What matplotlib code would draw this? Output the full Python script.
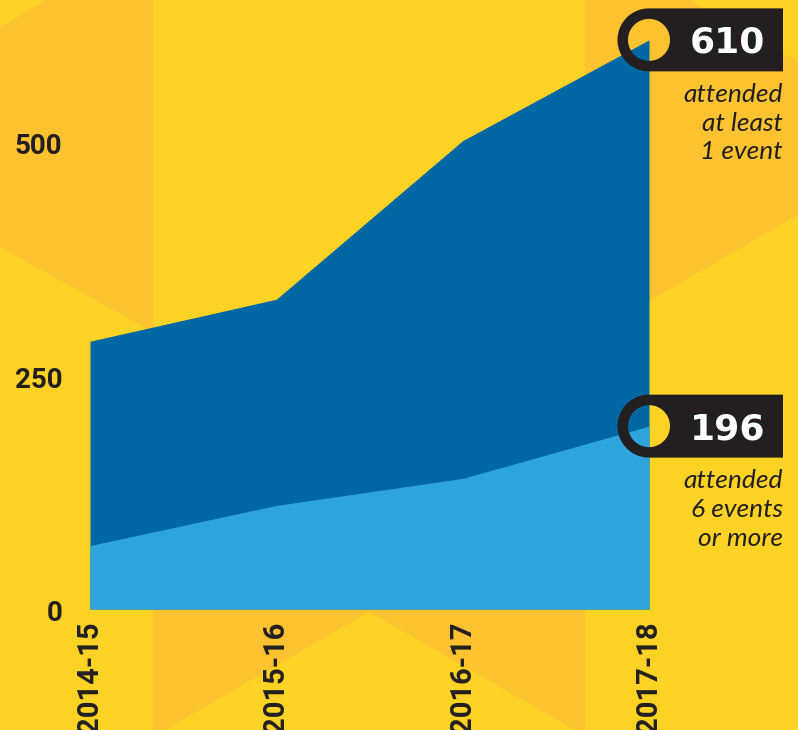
import numpy as np
import matplotlib
matplotlib.use('Agg')
import matplotlib.pyplot as plt
from matplotlib.path import Path
from matplotlib.patches import PathPatch, Polygon
from matplotlib.transforms import IdentityTransform, ScaledTranslation

# data
seasons = ['2014-15', '2015-16', '2016-17', '2017-18']
at_least_one = [287, 332, 502, 610]
six_or_more = [68, 111, 140, 196]
tag_captions = ['attended\nat least\n1 event', 'attended\n6 events\nor more']

yellow = '#FCD224'
amber = '#FDC22F'
dark_blue = '#0067A5'
light_blue = '#2EA4DC'
ink = '#231F20'

W, H = 798, 730
fig = plt.figure(figsize=(W / 100, H / 100), dpi=100, facecolor=yellow)

# background hexagon pieces (pixel coords, y down)
bg = fig.add_axes([0, 0, 1, 1])
bg.set_xlim(0, W)
bg.set_ylim(H, 0)
bg.axis('off')
shapes = [
    [(0, 27), (46, 0), (153, 0), (153, 332), (0, 247)],
    [(153, 540), (585, 540), (585, 730), (575, 730), (369, 612), (165, 730), (153, 730)],
    [(585, 0), (690, 0), (798, 62), (798, 215), (585, 338)],
]
for pts in shapes:
    bg.add_patch(Polygon(pts, closed=True, fc=amber, ec='none'))

# main chart
zero_px, px_per_unit = 609, 0.933
ax = fig.add_axes([90 / W, (H - zero_px) / H, (649 - 90) / W, zero_px / H])
ax.set_facecolor('none')
x = np.arange(len(seasons))
ax.fill_between(x, at_least_one, color=dark_blue, lw=0)
ax.fill_between(x, six_or_more, color=light_blue, lw=0)
ax.set_xlim(0, len(seasons) - 1)
ax.set_ylim(0, zero_px / px_per_unit)

for s in ax.spines.values():
    s.set_visible(False)
ax.set_yticks([0, 250, 500])
ax.set_yticklabels(['0', '250', '500'])
ax.set_xticks(x)
ax.set_xticklabels(seasons, rotation=90, va='top', ha='center')
ax.tick_params(length=0, colors=ink)
ax.tick_params(axis='y', pad=20)
ax.tick_params(axis='x', pad=9)
for lab in ax.get_yticklabels() + ax.get_xticklabels():
    lab.set_fontfamily('Roboto')
    lab.set_fontweight('bold')
    lab.set_fontsize(20)
for lab in ax.get_xticklabels():
    lab.set_fontsize(21)
for lab in ax.get_yticklabels():
    lab.set_va('top')
    lab.set_transform(lab.get_transform() + ScaledTranslation(0, 9 / 100, fig.dpi_scale_trans))


def tag(xv, yv, label, caption):
    cx, cy = ax.transData.transform((xv, yv))
    R, r, right = 31.5, 21, cx + 134
    t = np.linspace(np.pi / 2, 3 * np.pi / 2, 60)
    outer = np.column_stack([cx + R * np.cos(t), cy + R * np.sin(t)])
    outer = np.vstack([outer, [[right, cy - R], [right, cy + R], [cx, cy + R]]])
    ti = np.linspace(2 * np.pi, 0, 90)
    inner = np.column_stack([cx + r * np.cos(ti), cy + r * np.sin(ti)])
    verts = np.vstack([outer, inner])
    codes = ([Path.MOVETO] + [Path.LINETO] * (len(outer) - 1)
             + [Path.MOVETO] + [Path.LINETO] * (len(inner) - 1))
    fig.add_artist(PathPatch(Path(verts, codes), transform=IdentityTransform(),
                             fc=ink, ec='none', zorder=5))
    fig.text(cx + 116, cy - 13, label, transform=IdentityTransform(),
             ha='right', va='baseline', color='white', fontsize=26,
             fontweight='bold', family='DejaVu Sans', zorder=6)
    fig.text(right, cy - 43, caption, transform=IdentityTransform(),
             ha='right', va='top', color=ink, fontsize=19, style='italic',
             family='Lato', linespacing=1.3, zorder=6)


tag(x[-1], at_least_one[-1], str(at_least_one[-1]), tag_captions[0])
tag(x[-1], six_or_more[-1], str(six_or_more[-1]), tag_captions[1])

fig.savefig('out.png', dpi=100, facecolor=yellow)
